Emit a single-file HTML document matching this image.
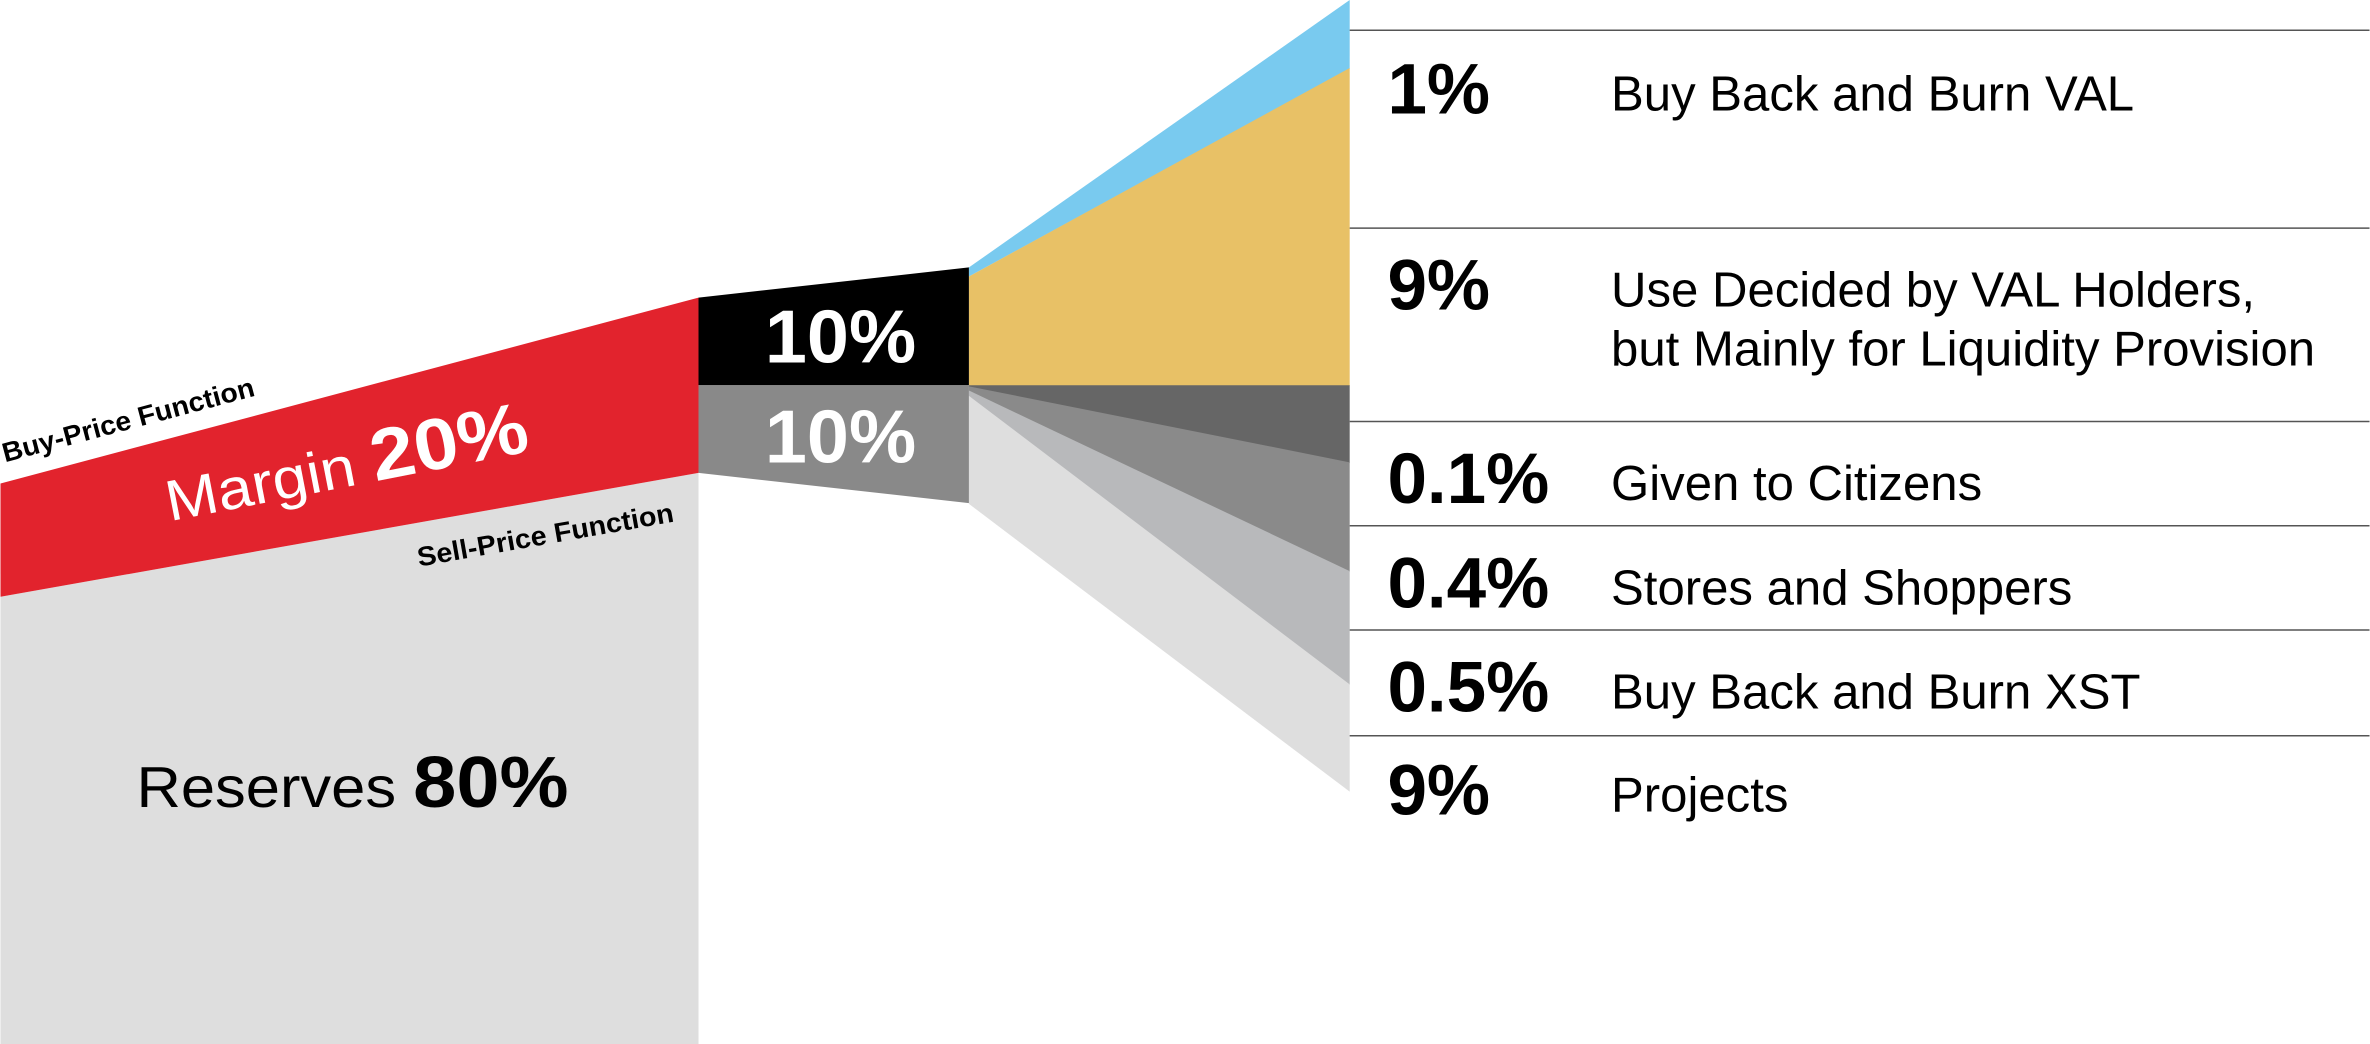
<!DOCTYPE html>
<html><head><meta charset="utf-8"><style>
html,body{margin:0;padding:0;background:#fff;}
svg{display:block;}
text{font-family:"Liberation Sans",sans-serif;}
</style></head><body>
<svg id="chart" width="2370" height="1044" viewBox="0 0 1568 691" xmlns="http://www.w3.org/2000/svg">
<polygon points="0,395 462,313 462,691 0,691" fill="#dedede"/>
<polygon points="0,320 462,197 462,313 0,395" fill="#e2232d"/>
<polygon points="462,197 641,177 641,255 462,255" fill="#000"/>
<polygon points="462,255 641,255 641,333 462,313" fill="#898989"/>
<g id="flows"></g>
<g id="rows"></g>
<text transform="translate(3,306) rotate(-14.9)" font-size="18" font-weight="bold" fill="#000" textLength="172" lengthAdjust="spacingAndGlyphs">Buy-Price Function</text>
<text transform="translate(277,375) rotate(-10)" font-size="18" font-weight="bold" fill="#000" textLength="172" lengthAdjust="spacingAndGlyphs">Sell-Price Function</text>
<text transform="translate(112,345) rotate(-11)" font-size="38" fill="#fff" textLength="244" lengthAdjust="spacingAndGlyphs">Margin <tspan font-weight="bold" font-size="48">20%</tspan></text>
<text x="90" y="534" font-size="38" fill="#000" textLength="286" lengthAdjust="spacingAndGlyphs">Reserves <tspan font-weight="bold" font-size="48">80%</tspan></text>
<text x="556" y="240" text-anchor="middle" font-size="50" font-weight="bold" fill="#fff">10%</text>
<text x="556" y="306" text-anchor="middle" font-size="50" font-weight="bold" fill="#fff">10%</text>
</svg>
<script>
const categories = ["Buy Back and Burn VAL","Use Decided by VAL Holders,|but Mainly for Liquidity Provision","Given to Citizens","Stores and Shoppers","Buy Back and Burn XST","Projects"];
const shareLabels = ["1%","9%","0.1%","0.4%","0.5%","9%"];
const shareValues = [1,9,0.1,0.4,0.5,9];
const flowColors = ["#79caef","#e8c166","#666666","#8a8a8a","#b8b9bb","#dedede"];
const ns="http://www.w3.org/2000/svg";
const tgtEdges=[0,45,255,306,378,453,524];
const flows=document.getElementById('flows');
let cumA=0,cumB=0;
shareValues.forEach((v,i)=>{
  let s0,s1;
  if(i<2){
    s0 = i===0 ? 177 : 183;
    s1 = i===0 ? 183 : 255.5;
    cumA+=v;
  } else {
    s0 = i===5 ? 262 : 255 + cumB*7;
    cumB+=v;
    s1 = i===5 ? 333 : 255 + cumB*7;
    s1 += 0.5;
  }
  const p=document.createElementNS(ns,'polygon');
  p.setAttribute('points',`641,${s0} 893,${tgtEdges[i]} 893,${tgtEdges[i+1]+(i<5?0.5:0)} 641,${s1}`);
  p.setAttribute('fill',flowColors[i]);
  
  
  flows.appendChild(p);
});
const rows=document.getElementById('rows');
const lineY=[20,151,279,348,417,487];
const pctY=[75,205,333,402,471,539];
lineY.forEach((y,i)=>{
  const l=document.createElementNS(ns,'line');
  l.setAttribute('x1',893);l.setAttribute('x2',1568);l.setAttribute('y1',y);l.setAttribute('y2',y);
  l.setAttribute('stroke','#555');l.setAttribute('stroke-width','1');
  
  
  rows.appendChild(l);
  const t=document.createElementNS(ns,'text');
  t.setAttribute('x',918);t.setAttribute('y',pctY[i]);t.setAttribute('font-size','47');t.setAttribute('font-weight','bold');
  t.textContent=shareLabels[i];
  
  
  rows.appendChild(t);
  const parts=categories[i].split('|');
  parts.forEach((s,k)=>{
    const c=document.createElementNS(ns,'text');
    c.setAttribute('x',1066);c.setAttribute('y',pctY[i]-2+k*39);c.setAttribute('font-size','32.5');
    c.textContent=s;
    
    
    rows.appendChild(c);
  });
});
</script>
</body></html>
